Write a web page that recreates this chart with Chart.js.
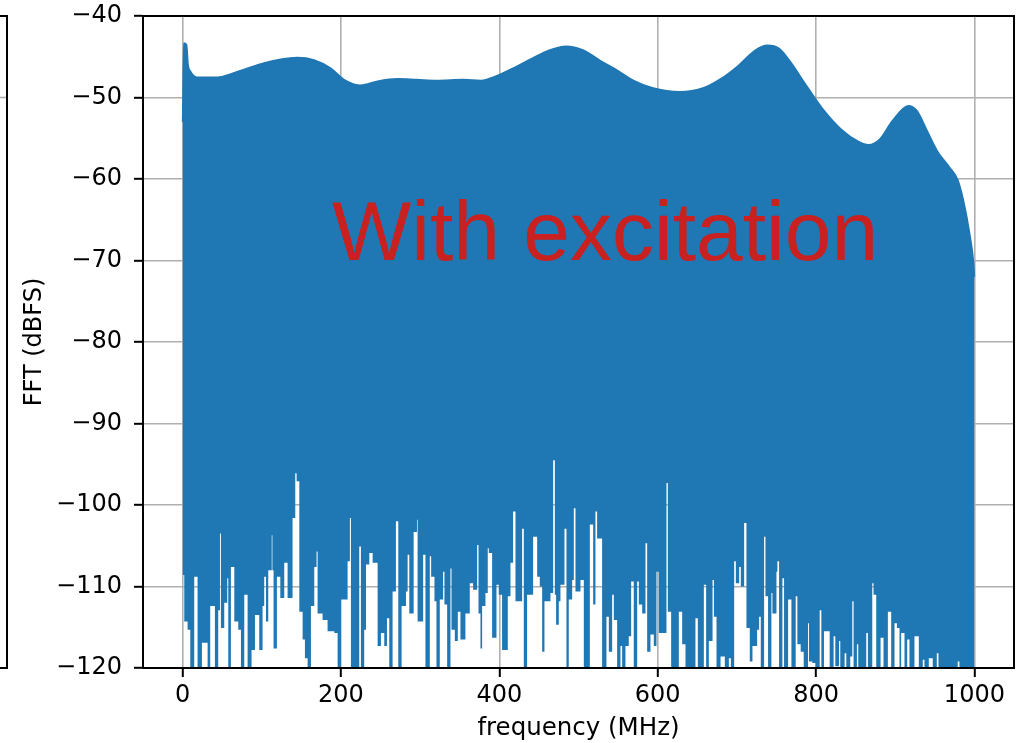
<!DOCTYPE html>
<html>
<head>
<meta charset="utf-8">
<script src="https://cdn.jsdelivr.net/npm/chart.js@4/dist/chart.umd.min.js"></script>
<style>
  html, body { margin: 0; padding: 0; background: #fff; }
  #wrap { position: relative; width: 1026px; height: 743px; }
</style>
</head>
<body>
<div id="wrap"><canvas id="c" width="1026" height="743"></canvas></div>
<script>
// ---------------- data ----------------
const xTicks = [0, 200, 400, 600, 800, 1000];
const yTicks = [-40, -50, -60, -70, -80, -90, -100, -110, -120];
const xLabel = 'frequency (MHz)';
const yLabel = 'FFT (dBFS)';
const annotationText = 'With excitation';

// upper envelope of the FFT magnitude
const topFreq = [0, 1.5, 5, 7, 10, 18, 44, 61, 82, 103, 124, 145, 166, 187, 204, 225, 246, 271, 296, 321, 355,
  376.5, 397.7, 419.4, 441.2, 462.9, 484.6, 506.3, 528, 549.6, 571.4, 593.1, 627.8, 658.2, 679.8, 701.6, 723.3,
  738.4, 753.7, 766.7, 788.4, 810.1, 831.8, 853.5, 866.5, 879.5, 896.9, 916.4, 927.3, 940.4, 953.4, 968, 979,
  987, 994, 999, 1000];
const topLevel = [-53, -43.3, -43.5, -46, -46.8, -47.5, -47.5, -47.1, -46.4, -45.75, -45.3, -45.1, -45.4, -46.4,
  -47.8, -48.5, -48.0, -47.7, -47.8, -47.9, -47.8,
  -47.9, -47.3, -46.3, -45.2, -44.2, -43.7, -44.2, -45.5, -46.7, -48.0, -48.8, -49.3, -48.8, -47.7, -46.1, -44.2,
  -43.6, -44.0, -45.5, -48.6, -51.6, -53.9, -55.4, -55.8, -55.2, -52.8, -51.0, -51.6, -54.1, -56.6, -58.5, -60.1,
  -63.0, -66.7, -70.3, -72];

// lower boundary of the solid area (each value holds until the next frequency)
const lowFreq = [0, 2.1, 6.3, 9.7, 14.7, 18.9, 24.4, 31.6, 34.9, 40.8, 45.0, 47.2, 48.4, 52.6, 56.4, 57.7, 61.0,
  65.3, 70.3, 73.7, 77.9, 82.1, 87.1, 91.4, 96.8, 101.0, 103.1, 105.3, 108.2, 112.6, 113.4, 114.9, 119.1, 123.4,
  128.4, 132.6, 138.9, 142.3, 144.0, 147.4, 151.6, 154.5, 157.9, 162.1, 166.3, 169.2, 170.5, 176.8, 183.1, 191.6,
  195.8, 200.0, 208.4, 211.3, 212.6, 223.1, 225.2, 229.4, 231.6, 235.8, 240.0, 246.3, 250.5, 254.7, 258.1, 261.0,
  265.2, 269.4, 272.4, 276.6, 282.1, 284.2, 286.3, 291.8, 296.0, 296.8, 303.8, 306.7, 312.2, 313.9, 318.1, 320.6,
  324.8, 329.0, 330.7, 334.1, 338.3, 339.6, 343.8, 347.6, 350.9, 357.2, 362.7, 366.9, 372.0, 373.7, 376.2, 378.3,
  382.5, 385.4, 386.7, 390.9, 396.4, 399.3, 403.5, 410.7, 414.1, 417.4, 420.4, 428.8, 430.9, 435.1, 442.7, 447.8,
  451.1, 454.1, 457.0, 464.6, 468.0, 470.1, 471.7, 475.1, 477.2, 482.3, 484.8, 487.7, 492.0, 494.1, 496.2, 502.5,
  506.7, 514.3, 518.5, 521.4, 523.5, 529.8, 535.3, 538.3, 542.5, 544.6, 548.8, 553.0, 555.1, 559.3, 563.5, 566.5,
  569.8, 574.1, 576.2, 580.4, 584.6, 586.7, 590.9, 595.1, 598.5, 601.4, 611.1, 612.8, 617.0, 626.7, 630.9, 635.1,
  647.7, 650.7, 658.3, 661.2, 664.6, 669.3, 671.0, 674.3, 679.4, 684.8, 689.9, 692.4, 696.6, 698.7, 702.9, 705.0,
  709.2, 712.1, 716.3, 719.7, 725.6, 728.1, 730.2, 734.4, 736.1, 739.4, 743.6, 744.9, 750.0, 751.2, 753.3, 757.5,
  759.6, 764.7, 768.9, 774.3, 776.4, 780.6, 784.4, 789.9, 791.1, 795.3, 799.5, 804.6, 806.7, 810.0, 817.2, 822.2,
  824.3, 829.0, 830.6, 836.1, 838.2, 843.2, 845.8, 847.4, 851.6, 853.3, 863.4, 865.5, 871.0, 872.6, 876.0, 881.5,
  885.2, 890.7, 894.9, 899.1, 902.1, 905.4, 907.5, 911.7, 915.1, 918.0, 924.3, 929.8, 934.8, 936.9, 942.4, 947.4,
  952.5, 954.6, 978.9, 981.1, 1000];
const lowLevel = [-108.6, -114.3, -115.3, -125, -108.8, -125, -116.9, -125, -112.4, -125, -112.9, -103.5, -115.1,
  -112.0, -109.0, -125, -107.6, -114.3, -115.3, -125, -111.0, -125, -117.8, -113.5, -117.8, -112.4, -108.8, -114.3,
  -108.0, -103.7, -108.0, -117.6, -108.8, -111.4, -107.1, -111.4, -101.6, -96.1, -97.1, -113.1, -116.5, -118.8,
  -125, -112.4, -107.6, -105.7, -113.3, -114.1, -115.5, -115.7, -125, -111.6, -106.9, -101.6, -125, -105.1, -125,
  -115.3, -107.3, -105.9, -107.1, -117.3, -115.7, -117.3, -113.9, -125, -110.6, -102.0, -125, -112.4, -110.6,
  -106.1, -113.3, -103.3, -101.8, -114.3, -106.1, -125, -106.3, -108.8, -111.8, -125, -111.6, -108.2, -112.2, -125,
  -107.8, -115.3, -116.7, -113.1, -116.5, -113.3, -109.6, -110.4, -104.9, -113.3, -117.6, -112.4, -110.8, -105.3,
  -105.9, -116.3, -109.8, -111.0, -117.8, -111.2, -107.1, -100.8, -111.8, -102.9, -125, -111.0, -103.9, -108.8,
  -110.0, -118.0, -111.8, -110.8, -94.5, -111.0, -114.7, -111.8, -109.8, -102.9, -125, -111.6, -109.2, -100.4,
  -110.6, -109.2, -125, -102.4, -112.2, -100.8, -104.1, -125, -113.7, -118.0, -111.0, -114.1, -125, -117.3, -125,
  -117.3, -116.1, -109.4, -125, -109.4, -112.2, -113.3, -104.7, -118.0, -115.9, -117.3, -108.2, -115.7, -97.3,
  -113.1, -125, -113.1, -117.1, -125, -113.9, -125, -109.8, -125, -116.7, -109.2, -113.7, -125, -118.6, -125,
  -118.8, -125, -106.9, -109.6, -107.6, -110.0, -102.2, -115.1, -119.2, -117.3, -115.3, -113.7, -125, -103.9,
  -111.2, -125, -110.8, -113.3, -108.2, -106.9, -125, -109.0, -125, -111.6, -125, -111.2, -117.1, -118.0, -125,
  -114.5, -119.2, -119.4, -125, -112.9, -125, -115.5, -125, -116.1, -119.8, -116.7, -125, -118.2, -125, -118.6,
  -111.8, -125, -117.1, -125, -115.7, -125, -109.6, -111.0, -125, -116.3, -125, -113.1, -125, -114.5, -115.1, -125,
  -115.7, -125, -116.5, -125, -116.1, -125, -119.0, -125, -118.8, -125, -118.2, -125, -119.2, -125, -125];

// ---------------- chart ----------------
const BLUE = '#1f77b4';
const FONT = 'DejaVu Sans';
const toPts = (xs, ys) => xs.map((x, i) => ({ x: x, y: ys[i] }));
const fmt = v => String(v).replace('-', '\u2212');

const framePlugin = {
  id: 'frame',
  afterDraw(chart) {
    const { ctx, chartArea: a, scales } = chart;
    ctx.save();
    // annotation text
    ctx.fillStyle = '#c9211f';
    ctx.font = '84px "Liberation Sans"';
    ctx.textAlign = 'center';
    ctx.textBaseline = 'alphabetic';
    ctx.fillText(annotationText, scales.x.getPixelForValue(533.6), scales.y.getPixelForValue(-69.9));
    // full box around the axes
    ctx.strokeStyle = '#000';
    ctx.lineWidth = 2;
    ctx.strokeRect(a.left, a.top, a.right - a.left, a.bottom - a.top);
    // edge of the neighbouring panel at the far left
    ctx.strokeStyle = '#b0b0b0';
    ctx.lineWidth = 1.6;
    ctx.beginPath();
    const y50 = scales.y.getPixelForValue(-50);
    ctx.moveTo(0, y50); ctx.lineTo(7, y50);
    ctx.stroke();
    ctx.strokeStyle = '#000';
    ctx.lineWidth = 2;
    ctx.beginPath();
    ctx.moveTo(0, a.top); ctx.lineTo(7, a.top); ctx.lineTo(7, a.bottom); ctx.lineTo(0, a.bottom);
    ctx.stroke();
    ctx.restore();
  }
};

new Chart(document.getElementById('c'), {
  type: 'line',
  data: {
    datasets: [
      {
        data: toPts(topFreq, topLevel),
        borderColor: BLUE,
        backgroundColor: BLUE,
        borderWidth: 1.5,
        pointRadius: 0,
        tension: 0.4,
        cubicInterpolationMode: 'monotone',
        fill: '+1'
      },
      {
        data: toPts(lowFreq, lowLevel),
        borderColor: 'rgba(0,0,0,0)',
        backgroundColor: BLUE,
        borderWidth: 1,
        pointRadius: 0,
        stepped: 'before',
        fill: false
      }
    ]
  },
  options: {
    responsive: false,
    animation: false,
    events: [],
    layout: { padding: { top: 16, right: 12, left: 0, bottom: 0 } },
    plugins: { legend: { display: false }, tooltip: { enabled: false } },
    scales: {
      x: {
        type: 'linear',
        min: -50,
        max: 1050,
        afterBuildTicks: s => { s.ticks = xTicks.map(v => ({ value: v })); },
        afterFit: s => { s.height = 75; s.paddingLeft = 0; s.paddingRight = 0; },
        ticks: { color: '#000', font: { family: FONT, size: 24 }, padding: 4, maxRotation: 0, callback: v => fmt(v) },
        grid: { color: '#b0b0b0', lineWidth: 1.6, tickColor: '#000', tickLength: 9, tickWidth: 2 },
        border: { color: '#000', width: 2 },
        title: { display: true, text: xLabel, color: '#000', font: { family: FONT, size: 24.5 }, padding: { top: 0, bottom: 0 } }
      },
      y: {
        type: 'linear',
        min: -120,
        max: -40,
        afterBuildTicks: s => { s.ticks = yTicks.map(v => ({ value: v })); },
        afterFit: s => { s.width = 143; s.paddingTop = 0; s.paddingBottom = 0; },
        ticks: { color: '#000', font: { family: FONT, size: 24 }, padding: 12, callback: v => fmt(v) },
        grid: { color: '#b0b0b0', lineWidth: 1.6, tickColor: '#000', tickLength: 9, tickWidth: 2 },
        border: { color: '#000', width: 2 },
        title: { display: true, text: yLabel, color: '#000', font: { family: FONT, size: 24 }, padding: { top: 20, bottom: 0 } }
      }
    }
  },
  plugins: [framePlugin]
});
</script>
</body>
</html>
